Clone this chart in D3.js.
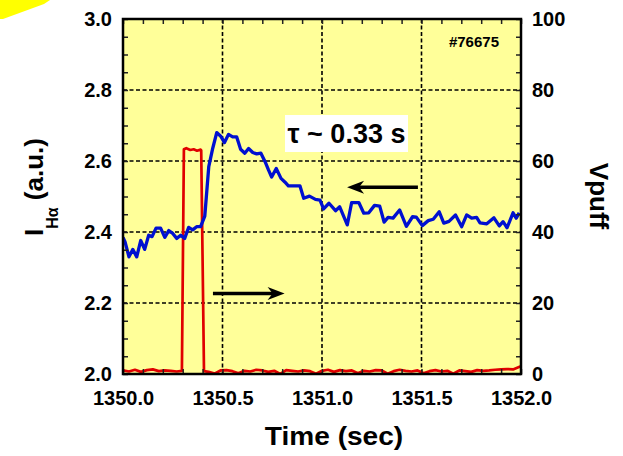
<!DOCTYPE html>
<html><head><meta charset="utf-8">
<script src="https://cdn.jsdelivr.net/npm/d3@7"></script>
<style>body{margin:0;background:#fff}svg{display:block}text{font-family:"Liberation Sans",Arial,sans-serif;font-weight:bold}</style>
</head><body>
<script>
// Time axis (seconds) and H-alpha intensity (left axis)
const blueTime = [0.000,0.010,0.030,0.049,0.069,0.089,0.109,0.129,0.146,0.166,0.189,0.210,0.230,0.250,0.270,0.290,0.310,0.330,0.350,0.370,0.390,0.411,0.431,0.451,0.471,0.491,0.510,0.530,0.551,0.571,0.591,0.612,0.631,0.652,0.672,0.693,0.714,0.731,0.747,0.770,0.794,0.813,0.831,0.852,0.872,0.889,0.908,0.937,0.967,0.990,1.008,1.035,1.068,1.089,1.127,1.149,1.185,1.210,1.235,1.264,1.290,1.312,1.332,1.357,1.390,1.424,1.455,1.474,1.504,1.534,1.559,1.589,1.612,1.638,1.671,1.702,1.727,1.752,1.777,1.794,1.828,1.864,1.891,1.910,1.930,1.960,1.976,1.991].map(d=>1350+d);
const ihaValues = [2.385,2.373,2.330,2.351,2.330,2.376,2.351,2.391,2.387,2.411,2.411,2.385,2.404,2.396,2.382,2.391,2.382,2.413,2.406,2.415,2.415,2.445,2.584,2.636,2.680,2.670,2.652,2.675,2.668,2.668,2.633,2.622,2.635,2.624,2.620,2.622,2.598,2.575,2.555,2.579,2.551,2.541,2.530,2.530,2.530,2.530,2.495,2.501,2.492,2.490,2.465,2.481,2.460,2.471,2.420,2.483,2.483,2.453,2.454,2.475,2.473,2.428,2.441,2.439,2.462,2.416,2.443,2.442,2.418,2.432,2.436,2.457,2.425,2.430,2.448,2.415,2.448,2.439,2.441,2.426,2.423,2.440,2.417,2.429,2.412,2.454,2.439,2.454];
// Vpuff (right axis)
const redTime = [0.00,0.03,0.06,0.09,0.12,0.15,0.18,0.21,0.24,0.27,0.296,0.306,0.318,0.338,0.355,0.372,0.390,0.393,0.407,0.43,0.46,0.49,0.52,0.55,0.58,0.61,0.64,0.67,0.70,0.73,0.76,0.79,0.82,0.85,0.88,0.91,0.94,0.97,1.00,1.03,1.06,1.09,1.12,1.15,1.18,1.21,1.24,1.27,1.30,1.33,1.36,1.39,1.42,1.45,1.48,1.51,1.54,1.57,1.60,1.63,1.66,1.69,1.72,1.75,1.78,1.81,1.84,1.87,1.90,1.93,1.96,1.99,2.00].map(d=>1350+d);
const vpuffValues = [1.0,0.7,1.2,0.6,1.1,1.3,0.8,1.0,0.9,0.7,0.9,63.3,63.6,63.1,63.3,62.9,63.2,63.0,0.8,0.6,0.1,1.0,1.1,0.8,0.2,0.9,0.7,1.2,1.0,0.6,0.9,0.0,1.1,0.9,0.7,1.0,0.8,0.1,0.9,1.2,0.6,1.1,0.8,1.0,0.2,0.9,0.7,1.1,1.0,0.1,0.8,1.2,0.9,0.7,1.0,0.2,0.8,1.1,0.7,0.9,0.1,1.0,0.8,0.6,1.1,0.9,1.0,1.2,1.3,1.4,1.3,2.0,2.2];
// ticks
const xLabelTicks = [1350.0,1350.5,1351.0,1351.5,1352.0];
const leftLabelTicks = [2.0,2.2,2.4,2.6,2.8,3.0];
const rightLabelTicks = [0,20,40,60,80,100];
const xGrid = [1350.5,1351.0,1351.5];
const yGrid = [2.2,2.4,2.6,2.8];

const W=623,H=456;
const L=123,R=521,T=19,B=374;
const svg=d3.select("body").append("svg").attr("width",W).attr("height",H);
svg.append("rect").attr("width",W).attr("height",H).attr("fill","#fff");
// decorative yellow shape top-left
svg.append("path").attr("d","M0,0 L50,0 L44,4 L3,19 L0,19 Z").attr("fill","#ffff00");

const x=d3.scaleLinear().domain([1350,1352]).range([L,R]);
const yL=d3.scaleLinear().domain([2,3]).range([B,T]);
const yR=d3.scaleLinear().domain([0,100]).range([B,T]);

svg.append("rect").attr("x",L).attr("y",T).attr("width",R-L).attr("height",B-T).attr("fill","#ffff99");

const grid=svg.append("g").attr("stroke","#000").attr("stroke-width",1.6).attr("stroke-dasharray","4,2.5");
grid.selectAll(".gx").data(xGrid).join("line").attr("x1",d=>x(d)).attr("x2",d=>x(d)).attr("y1",T).attr("y2",B);
grid.selectAll(".gy").data(yGrid).join("line").attr("y1",d=>yL(d)).attr("y2",d=>yL(d)).attr("x1",L).attr("x2",R);

svg.append("clipPath").attr("id","clip").append("rect").attr("x",L).attr("y",T).attr("width",R-L).attr("height",B-T);
const plot=svg.append("g").attr("clip-path","url(#clip)");
const redLine=d3.line().x((d,i)=>x(redTime[i])).y(d=>yR(d));
plot.append("path").attr("d",redLine(vpuffValues)).attr("fill","none").attr("stroke","#e00000").attr("stroke-width",2.7).attr("stroke-linejoin","round");
const blueLine=d3.line().x((d,i)=>x(blueTime[i])).y(d=>yL(d));
plot.append("path").attr("d",blueLine(ihaValues)).attr("fill","none").attr("stroke","#0010d0").attr("stroke-width",3.3).attr("stroke-linejoin","round");

// axes
const fmt1=d3.format(".1f");
const near=(v,arr)=>arr.some(a=>Math.abs(a-v)<1e-6);
const axB=d3.axisBottom(x).tickValues(d3.range(0,21).map(i=>1350+i*0.1)).tickSize(-5).tickPadding(17).tickFormat(d=>near(d,xLabelTicks)?fmt1(d):"");
const axT=d3.axisTop(x).tickValues(d3.range(0,21).map(i=>1350+i*0.1)).tickSize(-5).tickFormat("");
const axLft=d3.axisLeft(yL).tickValues(d3.range(0,21).map(i=>2+i*0.05)).tickSize(-5).tickPadding(11).tickFormat(d=>near(d,leftLabelTicks)?fmt1(d):"");
const axRgt=d3.axisRight(yR).tickValues(d3.range(0,21).map(i=>i*5)).tickSize(-5).tickPadding(11).tickFormat(d=>near(d,rightLabelTicks)?d:"");
function style(g){g.select(".domain").remove();g.selectAll("line").attr("stroke","#222").attr("stroke-width",1.5);g.selectAll("text").attr("fill","#000").style("font-size","20px").style("font-family","'Liberation Sans',Arial,sans-serif").style("font-weight","bold");}
svg.append("g").attr("transform",`translate(0,${B})`).call(axB).call(style);
svg.append("g").attr("transform",`translate(0,${T})`).call(axT).call(style);
svg.append("g").attr("transform",`translate(${L},0)`).call(axLft).call(style);
svg.append("g").attr("transform",`translate(${R},0)`).call(axRgt).call(style);

svg.append("rect").attr("x",L).attr("y",T).attr("width",R-L).attr("height",B-T).attr("fill","none").attr("stroke","#000").attr("stroke-width",2.5);

// annotations
svg.append("text").attr("x",499).attr("y",47).attr("text-anchor","end").style("font-size","15px").text("#76675");
svg.append("rect").attr("x",285).attr("y",115).attr("width",123).attr("height",37).attr("fill","#fff");
svg.append("text").attr("x",346.5).attr("y",143).attr("text-anchor","middle").style("font-size","27px").text("τ ~ 0.33 s");

function arrow(t1,t2,yv,dir){
  const xa=x(t1), xb=x(t2), yy=yL(yv);
  svg.append("line").attr("x1",xa).attr("x2",xb-dir*10).attr("y1",yy).attr("y2",yy).attr("stroke","#000").attr("stroke-width",3.5);
  const tip=xb, back=xb-dir*17, notch=xb-dir*12;
  svg.append("path").attr("d",`M${tip},${yy} L${back},${yy-6.5} L${notch},${yy} L${back},${yy+6.5} Z`).attr("fill","#000");
}
arrow(1351.482,1351.126,2.526,-1);
arrow(1350.452,1350.812,2.227,1);

// axis titles
svg.append("text").attr("transform","translate(334,445) scale(1.08,1)").attr("text-anchor","middle").style("font-size","26px").text("Time (sec)");
const yt=svg.append("text").attr("transform","translate(43,187) rotate(-90)").attr("text-anchor","middle").style("font-size","26px");
yt.append("tspan").text("I");
yt.append("tspan").attr("dy",15).style("font-size","16px").text("Hα");
yt.append("tspan").attr("dy",-15).text(" (a.u.)");
svg.append("text").attr("transform","translate(590,196) rotate(90)").attr("text-anchor","middle").style("font-size","26px").text("Vpuff");
</script>
</body></html>
